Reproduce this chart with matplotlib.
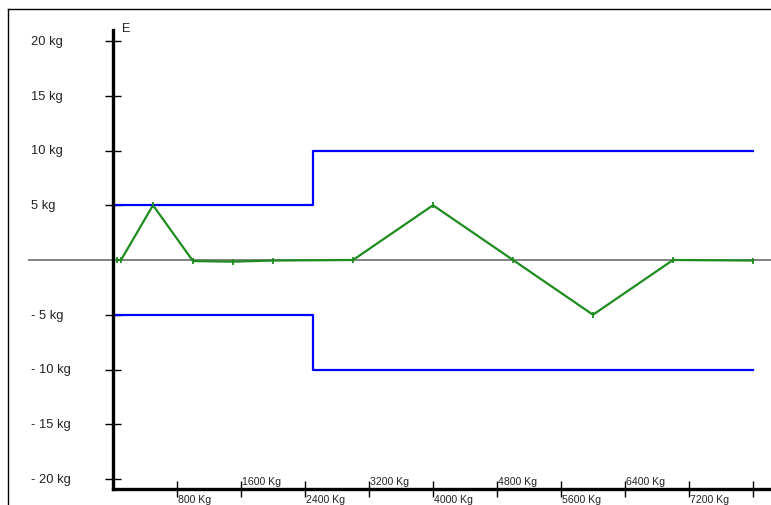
import matplotlib
matplotlib.use("Agg")
import matplotlib.pyplot as plt
from matplotlib.lines import Line2D
import matplotlib.transforms as mtransforms

# ---- data ----
weights = [50, 100, 500, 1000, 1500, 2000, 3000, 4000, 5000, 6000, 7000, 8000]
errors = [0, 0, 5, -0.1, -0.15, -0.05, 0, 5, 0, -5, 0, -0.05]

limit_x = [0, 2500, 8000]
upper_limit = [5, 10, 10]
lower_limit = [-5, -10, -10]

y_ticks = [20, 15, 10, 5, -5, -10, -15, -20]
y_labels = ["20 kg", "15 kg", "10 kg", "5 kg", "- 5 kg", "- 10 kg", "- 15 kg", "- 20 kg"]
x_ticks = [800, 1600, 2400, 3200, 4000, 4800, 5600, 6400, 7200, 8000]
x_labels = ["800 Kg", "1600 Kg", "2400 Kg", "3200 Kg", "4000 Kg", "4800 Kg",
            "5600 Kg", "6400 Kg", "7200 Kg", ""]

# ---- figure ----
W, H = 771, 506
fig = plt.figure(figsize=(W / 100, H / 100), dpi=100)
plt.rcParams['font.family'] = ['Liberation Sans', 'DejaVu Sans']

x0, x1 = 113, 770
ytop, ybot = 31, 490
ax = fig.add_axes([x0 / W, 1 - ybot / H, (x1 - x0) / W, (ybot - ytop) / H])

pxkg = 0.08
pxy = 10.95
yzero = 261
ax.set_xlim(0, (x1 - x0) / pxkg)
ax.set_ylim(-(ybot - yzero) / pxy, (yzero - ytop) / pxy)

for s in ['top', 'right']:
    ax.spines[s].set_visible(False)
for s in ['left', 'bottom']:
    ax.spines[s].set_linewidth(2.4)
    ax.spines[s].set_color('black')

# zero line
ax.axhline(0, xmin=(29 - x0) / (x1 - x0), xmax=(771 - x0) / (x1 - x0),
           color='#777777', lw=1.3, clip_on=False, zorder=1)

# limits
ax.plot(limit_x, upper_limit, drawstyle='steps-post', color='#0000ff', lw=1.6, zorder=2)
ax.plot(limit_x, lower_limit, drawstyle='steps-post', color='#0000ff', lw=1.6, zorder=2)

# error curve
ax.plot(weights, errors, color='#1e8c1e', lw=1.6, marker='|', ms=4, mew=1.3, zorder=3)

# ticks
ax.set_yticks(y_ticks)
ax.set_yticklabels([])
ax.set_xticks(x_ticks)
ax.set_xticklabels([])
ax.tick_params(axis='both', direction='inout', length=12, width=1, color='black')

# y labels, left aligned
ytrans = mtransforms.blended_transform_factory(fig.transFigure, ax.transData)
for v, lab in zip(y_ticks, y_labels):
    fig.text(31 / W, v, lab, transform=ytrans, ha='left', va='center',
             fontsize=9.3, color='#222222')

# x labels, alternating above / below
xtrans = ax.transData
for i, (v, lab) in enumerate(zip(x_ticks, x_labels)):
    if not lab:
        continue
    above = (i % 2 == 1)
    t = mtransforms.offset_copy(ax.get_xaxis_transform(), fig=fig, x=1.5,
                                y=(3 if above else -5), units='dots')
    ax.text(v, 0, lab, transform=t, ha='left', va=('bottom' if above else 'top'),
            fontsize=7.6, color='#222222', clip_on=False)

# axis title
ax.text(122 / W, 1 - 29 / H, "E", transform=fig.transFigure, ha='left',
        va='center', fontsize=9, color='#222222')

# outer frame lines
fig.add_artist(Line2D([8 / W, 8 / W], [0, 1 - 10 / H], transform=fig.transFigure,
                      color='black', lw=1))
fig.add_artist(Line2D([8 / W, 1], [1 - 10 / H, 1 - 10 / H], transform=fig.transFigure,
                      color='black', lw=1))

fig.savefig("out.png", dpi=100)
